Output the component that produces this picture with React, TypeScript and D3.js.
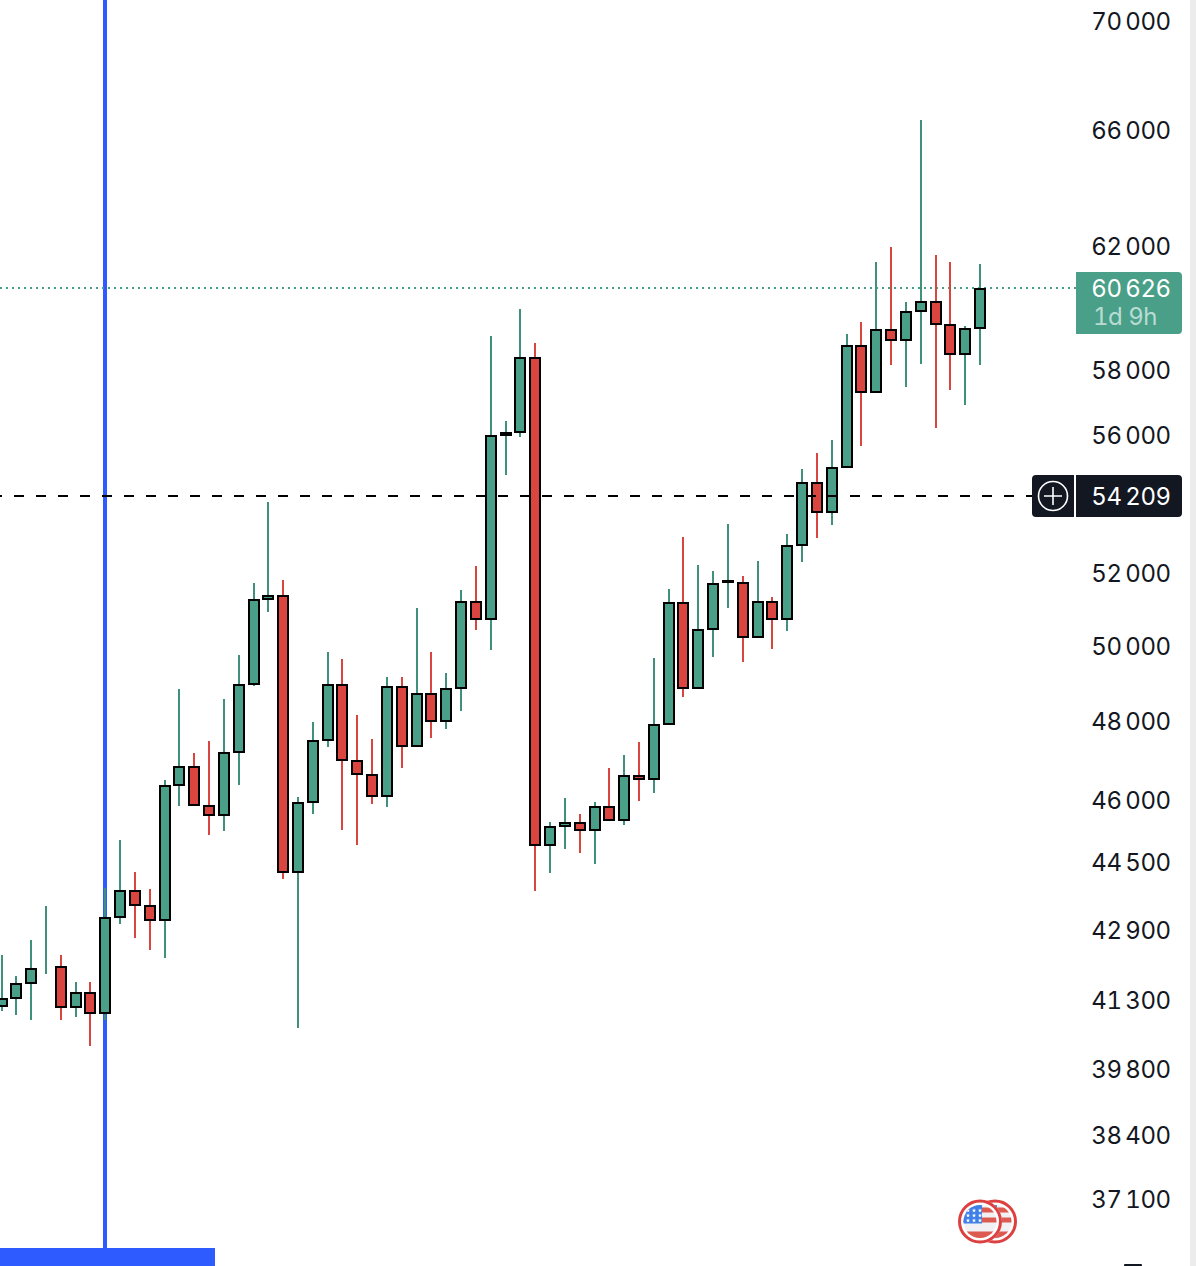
import { useEffect, useRef } from "react";
import * as d3 from "d3";

// daily candles, oldest first
const opens = [
  41168, 41344, 41682, 42080, 42043, 41146, 41457, 41014, 43192, 43801, 43448, 43122, 46375, 46828, 45855, 45632, 47212,
  48970, 51265, 51347, 44252, 45955, 47515, 48943, 46979, 46626, 46105, 48890, 47355, 48706, 48003, 48864, 51183, 50716,
  56000, 56095, 58377, 44900, 45362, 45436, 45265, 45830, 45510, 46600, 46525, 47925, 51155, 48864, 50442, 51740, 51709,
  50230, 51183, 50716, 52775, 54570, 53728, 55045, 58755, 57318, 59260, 58940, 59870, 60166, 59423, 58495, 59327,
];
const highs = [
  42318, 41840, 42662, 43448, 42318, 41705, 41705, 43871, 45026, 44252, 43848, 46500, 48839, 47187, 47490, 48575, 49741,
  51709, 54018, 51793, 46080, 47977, 49823, 49633, 48158, 47538, 49155, 49155, 51016, 49823, 49261, 51513, 52190, 59070,
  56427, 59937, 58850, 45460, 46055, 45657, 45955, 46803, 47136, 47465, 49660, 51540, 53005, 52213, 52045, 53380, 51905,
  52325, 51320, 53093, 54985, 55460, 55850, 59135, 59519, 61474, 61980, 60166, 66364, 61708, 61474, 59390, 61408,
];
const lows = [
  41058, 40970, 40860, 41885, 40860, 40926, 40292, 40860, 43030, 42708, 42432, 42250, 45855, 45880, 45143, 45240, 46375,
  48917, 50907, 44085, 40684, 45657, 47330, 45265, 44900, 45905, 45830, 46803, 47340, 47565, 47795, 48263, 50415, 49880,
  54810, 55945, 43801, 44228, 44803, 44706, 44443, 45485, 45387, 45980, 46180, 47900, 48628, 48850, 49690, 51016, 49553,
  50200, 49905, 50388, 52297, 52975, 53350, 55045, 55670, 57318, 58155, 57470, 58186, 56215, 57375, 56915, 58155,
];
const closes = [
  41322, 41659, 41998, 42090, 41146, 41457, 41014, 43169, 43801, 43470, 43122, 46350, 46828, 45880, 45632, 47187, 48943,
  51238, 51347, 44252, 45930, 47490, 48943, 47004, 46651, 46105, 48890, 47355, 48706, 48003, 48839, 51183, 50716, 55974,
  56060, 58377, 44900, 45338, 45436, 45265, 45830, 45510, 46600, 46525, 47900, 51155, 48864, 50415, 51680, 51765, 50230,
  51183, 50716, 52747, 54570, 53728, 55015, 58755, 57318, 59260, 58940, 59840, 60166, 59455, 58495, 59295, 60590,
];

const axisTicks = [70000, 66000, 62000, 58000, 56000, 52000, 50000, 48000, 46000, 44500, 42900, 41300, 39800, 38400, 37100];
const lastPrice = 60626;
const crosshairPrice = 54209;
const countdown = "1d 9h";

const GREEN = "#4a9f88";
const GREEN_WICK = "#40917b";
const RED = "#db4540";
const BLUE = "#2e5bff";
const DARK = "#131722";

const fmt = (v: number) => {
  const s = String(v);
  return s.slice(0, -3) + "\u2009" + s.slice(-3);
};

export default function App() {
  const svgRef = useRef<SVGSVGElement>(null);

  useEffect(() => {
    const svg = d3.select(svgRef.current);
    svg.selectAll("*").remove();

    const xScale = d3.scaleLinear().domain([0, 66]).range([1.5, 980]);
    const y = d3.scaleLog().domain([37100, 70000]).range([1199, 21]);
    // candles sit on whole pixels
    const x = (i: number) => Math.round(xScale(i));
    const py = (v: number) => Math.round(y(v));

    const label = (sel: d3.Selection<SVGTextElement, any, any, any>) =>
      sel
        .attr("font-family", "Inter")
        .attr("font-size", 24)
        .attr("letter-spacing", -0.5)
        .style("font-variant-numeric", "tabular-nums")
        .attr("dominant-baseline", "central");

    // side strip
    svg.append("rect").attr("x", 1190).attr("y", 0).attr("width", 6).attr("height", 1266).attr("fill", "#ececec");

    // marker line + bar
    svg.append("rect").attr("x", 103).attr("y", 0).attr("width", 4).attr("height", 1250).attr("fill", BLUE);
    svg.append("rect").attr("x", 0).attr("y", 1248).attr("width", 215).attr("height", 18).attr("fill", BLUE);

    // last price line
    svg.append("line")
      .attr("x1", 0)
      .attr("x2", 1076)
      .attr("y1", py(lastPrice))
      .attr("y2", py(lastPrice))
      .attr("stroke", GREEN)
      .attr("stroke-width", 2)
      .attr("stroke-dasharray", "2 4");

    const idx = d3.range(opens.length);
    const isUp = (i: number) => closes[i] >= opens[i];

    // wicks
    svg.append("g")
      .selectAll("line")
      .data(idx)
      .enter()
      .append("line")
      .attr("x1", (i) => x(i))
      .attr("x2", (i) => x(i))
      .attr("y1", (i) => py(highs[i]))
      .attr("y2", (i) => py(lows[i]))
      .attr("stroke", (i) => (isUp(i) ? GREEN_WICK : RED))
      .attr("stroke-width", 2);

    // bodies
    svg.append("g")
      .selectAll("rect")
      .data(idx)
      .enter()
      .append("rect")
      .attr("x", (i) => x(i) - 5)
      .attr("y", (i) => py(Math.max(opens[i], closes[i])))
      .attr("width", 10)
      .attr("height", (i) => Math.abs(py(opens[i]) - py(closes[i])))
      .attr("fill", (i) => (isUp(i) ? GREEN : RED))
      .attr("stroke", "#000")
      .attr("stroke-width", 2);

    // crosshair line
    const crossY = py(crosshairPrice) + 1;
    svg.append("line")
      .attr("x1", -8)
      .attr("x2", 1032)
      .attr("y1", crossY)
      .attr("y2", crossY)
      .attr("stroke", "#000")
      .attr("stroke-width", 2)
      .attr("stroke-dasharray", "10 12");

    // axis labels
    svg.append("g")
      .selectAll("text")
      .data(axisTicks)
      .enter()
      .append("text")
      .attr("x", 1170.5)
      .attr("y", (d) => y(d) + 0.7)
      .attr("text-anchor", "end")
      .call(label)
      .attr("fill", "#131722")
      .text(fmt);

    // last price tag
    const lastY = y(lastPrice);
    svg.append("path")
      .attr("d", `M1076,272H1178a4,4 0 0 1 4,4V330a4,4 0 0 1 -4,4H1076Z`)
      .attr("fill", GREEN);
    svg.append("text")
      .attr("x", 1170.5)
      .attr("y", lastY + 0.7)
      .attr("text-anchor", "end")
      .call(label)
      .attr("fill", "#fff")
      .text(fmt(lastPrice));
    svg.append("text")
      .attr("x", 1093)
      .attr("y", lastY + 28.7)
      .call(label)
      .attr("fill", "#b7dcd2")
      .text(countdown);

    // crosshair tag
    svg.append("path")
      .attr("d", `M1074,${crossY - 21}H1036a4,4 0 0 0 -4,4V${crossY + 17}a4,4 0 0 0 4,4H1074Z`)
      .attr("fill", DARK);
    svg.append("path")
      .attr("d", `M1076,${crossY - 21}H1178a4,4 0 0 1 4,4V${crossY + 17}a4,4 0 0 1 -4,4H1076Z`)
      .attr("fill", DARK);
    svg.append("circle")
      .attr("cx", 1053)
      .attr("cy", crossY)
      .attr("r", 14.5)
      .attr("fill", "none")
      .attr("stroke", "#fff")
      .attr("stroke-width", 1.6);
    svg.append("path")
      .attr("d", `M1044,${crossY}H1062M1053,${crossY - 9}V${crossY + 9}`)
      .attr("stroke", "#fff")
      .attr("stroke-width", 1.6);
    svg.append("text")
      .attr("x", 1170.5)
      .attr("y", y(crosshairPrice) + 0.7)
      .attr("text-anchor", "end")
      .call(label)
      .attr("fill", "#fff")
      .text(fmt(crosshairPrice));

    // stub of the label below the view
    svg.append("rect").attr("x", 1124).attr("y", 1264).attr("width", 18).attr("height", 4).attr("rx", 1).attr("fill", DARK);

    // event flags
    const defs = svg.append("defs");
    [995, 980].forEach((cx, n) => {
      const cy = 1221.5;
      const id = `flag${n}`;
      defs.append("clipPath").attr("id", id).append("circle").attr("cx", cx).attr("cy", cy).attr("r", 16.5);
      svg.append("circle").attr("cx", cx).attr("cy", cy).attr("r", 22).attr("fill", "#fff");
      svg.append("circle").attr("cx", cx).attr("cy", cy).attr("r", 20.5).attr("fill", "#fff").attr("stroke", "#dc4040").attr("stroke-width", 3);
      const f = svg.append("g").attr("clip-path", `url(#${id})`);
      f.append("rect").attr("x", cx - 17).attr("y", cy - 17).attr("width", 34).attr("height", 34).attr("fill", "#f1f1f5");
      [-14, -4, 10].forEach((dy, k) => {
        f.append("rect").attr("x", cx - 17).attr("y", cy + dy).attr("width", 34).attr("height", k === 2 ? 8 : 5).attr("fill", "#dc5a50");
      });
      f.append("rect").attr("x", cx - 17).attr("y", cy - 17).attr("width", 19).attr("height", 19).attr("fill", "#3f7fe8");
      const star = d3.symbol().type(d3.symbolStar).size(6);
      for (const dy of [-11, -6, -1]) {
        for (const dx of [-12, -6, 0]) {
          f.append("path").attr("d", star()).attr("transform", `translate(${cx + dx},${cy + dy})`).attr("fill", "#fff");
        }
      }
    });
  }, []);

  return (
    <svg
      ref={svgRef}
      width={1196}
      height={1266}
      style={{ position: "absolute", left: 0, top: 0, background: "#fff" }}
    />
  );
}
